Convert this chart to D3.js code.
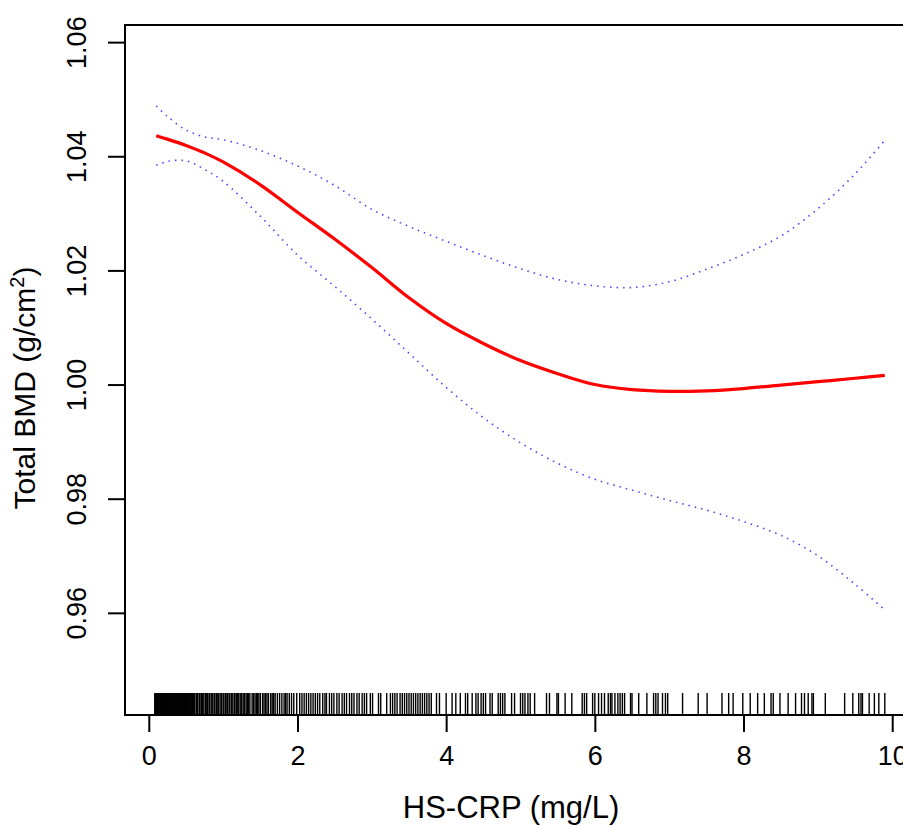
<!DOCTYPE html>
<html>
<head>
<meta charset="utf-8">
<script src="https://cdn.jsdelivr.net/npm/d3@7"></script>
<style>
  html, body { margin: 0; padding: 0; background: #fff; }
  svg { display: block; font-family: "Liberation Sans", Arial, Helvetica, sans-serif; }
</style>
</head>
<body>
<div id="chart"></div>
<script>
// HS-CRP values where the smooth curve and its bounds were read
var curveX = [0.1, 0.25, 0.5, 0.75, 1.0, 1.5, 2.0, 2.5, 3.0, 3.5, 4.0, 4.5, 5.0, 5.5, 6.0, 6.5, 7.0, 7.5, 8.0, 8.5, 9.0, 9.5, 9.9];

var fitValues = [1.0436, 1.0430, 1.0419, 1.0406, 1.0390, 1.0350, 1.0302, 1.0255, 1.0205, 1.0152, 1.0107, 1.0072,
                 1.0042, 1.0019, 1.0000, 0.9991, 0.9988, 0.9989, 0.9993, 0.9999, 1.0005, 1.0011, 1.0016];

var upperValues = [1.0488, 1.0470, 1.0446, 1.0434, 1.0429, 1.0410, 1.0383, 1.0349, 1.0307, 1.0277, 1.0251, 1.0226,
                   1.0203, 1.0184, 1.0173, 1.0170, 1.0180, 1.0202, 1.0228, 1.0260, 1.0308, 1.0369, 1.0428];

var lowerValues = [1.0384, 1.0391, 1.0392, 1.0377, 1.0356, 1.0295, 1.0227, 1.0172, 1.0115, 1.0055, 0.9995, 0.9942,
                   0.9898, 0.9862, 0.9834, 0.9815, 0.9797, 0.9780, 0.9760, 0.9736, 0.9700, 0.9650, 0.9605];

// observed HS-CRP values shown as a rug
var rugValues = [
  0.08, 0.09, 0.10, 0.11, 0.12, 0.13, 0.14, 0.15, 0.16, 0.17, 0.18, 0.19, 0.20, 0.21, 0.22, 0.23, 0.24, 0.25,
  0.26, 0.27, 0.28, 0.29, 0.30, 0.31, 0.32, 0.33, 0.34, 0.35, 0.36, 0.37, 0.38, 0.39, 0.40, 0.41, 0.42, 0.43,
  0.44, 0.45, 0.46, 0.47, 0.48, 0.49, 0.50, 0.51, 0.52, 0.53, 0.54, 0.55, 0.56, 0.57, 0.58, 0.59, 0.60, 0.61, 0.62,
  0.64, 0.65, 0.66, 0.68, 0.69, 0.71, 0.72, 0.74, 0.76, 0.78, 0.79, 0.81, 0.82, 0.84, 0.86, 0.88, 0.89, 0.91,
  0.92, 0.94, 0.96, 0.98, 1.00, 1.01, 1.03, 1.05, 1.06, 1.08, 1.09, 1.11, 1.13, 1.15, 1.16, 1.18, 1.19, 1.21,
  1.23, 1.25, 1.27, 1.29, 1.31, 1.33, 1.34, 1.36, 1.39, 1.41, 1.43, 1.45, 1.46, 1.48, 1.50, 1.53, 1.55, 1.57,
  1.59, 1.61, 1.64, 1.66, 1.68, 1.70, 1.73, 1.76, 1.79, 1.82, 1.84, 1.86, 1.89, 1.92, 1.95, 1.99,
  2.03, 2.06, 2.09, 2.12, 2.15, 2.18, 2.21, 2.24, 2.27, 2.30, 2.34, 2.37, 2.39, 2.43, 2.46, 2.49, 2.53, 2.56,
  2.60, 2.63, 2.66, 2.70, 2.73, 2.76, 2.80, 2.83, 2.87, 2.90, 2.93, 2.98, 3.01, 3.09, 3.12, 3.20, 3.25, 3.28,
  3.31, 3.34, 3.38, 3.41, 3.44, 3.47, 3.50, 3.53, 3.56, 3.59, 3.62, 3.65, 3.68, 3.71, 3.74, 3.77, 3.80, 3.87,
  3.91, 4.00, 4.08, 4.13, 4.19, 4.26, 4.29, 4.35, 4.40, 4.43, 4.47, 4.50, 4.53, 4.59, 4.62, 4.70, 4.73, 4.76,
  4.79, 4.88, 4.92, 5.00, 5.03, 5.06, 5.10, 5.13, 5.19, 5.35, 5.39, 5.49, 5.51, 5.60, 5.69, 5.83, 5.86, 5.89,
  5.97, 6.00, 6.05, 6.09, 6.13, 6.18, 6.21, 6.23, 6.27, 6.31, 6.34, 6.37, 6.40, 6.48, 6.50, 6.59, 6.70, 6.79,
  6.82, 6.85, 6.91, 6.95, 6.98, 7.18, 7.39, 7.51, 7.71, 7.80, 7.86, 7.99, 8.09, 8.19, 8.28, 8.37, 8.40, 8.49,
  8.60, 8.70, 8.78, 8.82, 8.87, 8.92, 8.94, 9.10, 9.36, 9.47, 9.55, 9.58, 9.60, 9.69, 9.76, 9.82, 9.90
];

var xTicks = [0, 2, 4, 6, 8, 10];
var yTicks = [0.96, 0.98, 1.00, 1.02, 1.04, 1.06];

var xTitle = "HS-CRP (mg/L)";

var width = 903,
    height = 825,
    margin = {top: 25, left: 125, bottom: 110},
    plotRight = 916;

var svg = d3.select("#chart").append("svg")
    .attr("width", width)
    .attr("height", height);

var x = d3.scaleLinear()
    .domain([-0.32, 10.32])
    .range([margin.left, plotRight]);

var y = d3.scaleLinear()
    .domain([0.9421, 1.0630])
    .range([height - margin.bottom, margin.top]);

// rug along the bottom of the plot
svg.append("g")
    .attr("class", "rug")
  .selectAll("line")
  .data(rugValues)
  .enter().append("line")
    .attr("x1", function(d) { return x(d); })
    .attr("x2", function(d) { return x(d); })
    .attr("y1", y.range()[0] - 22)
    .attr("y2", y.range()[0])
    .attr("stroke", "#000")
    .attr("stroke-width", 1.4);

var line = d3.line()
    .curve(d3.curveCatmullRom.alpha(0.5))
    .x(function(d) { return x(d[0]); })
    .y(function(d) { return y(d[1]); });

function pairs(values) {
    return curveX.map(function(v, i) { return [v, values[i]]; });
}

// confidence bounds, dotted blue
[upperValues, lowerValues].forEach(function(values) {
    svg.append("path")
        .datum(pairs(values))
        .attr("fill", "none")
        .attr("stroke", "#4646ff")
        .attr("stroke-width", 1.6)
        .attr("stroke-dasharray", "1.5,5")
        .attr("d", line);
});

// fitted curve
svg.append("path")
    .datum(pairs(fitValues))
    .attr("fill", "none")
    .attr("stroke", "#ff0000")
    .attr("stroke-width", 3.2)
    .attr("stroke-linejoin", "round")
    .attr("d", line);

// plot box (right side falls outside the picture)
svg.append("rect")
    .attr("x", margin.left)
    .attr("y", margin.top)
    .attr("width", plotRight - margin.left)
    .attr("height", y.range()[0] - margin.top)
    .attr("fill", "none")
    .attr("stroke", "#000")
    .attr("stroke-width", 2);

// x axis
var xAxis = svg.append("g")
    .attr("transform", "translate(0," + y.range()[0] + ")")
    .call(d3.axisBottom(x).tickValues(xTicks).tickSize(17).tickPadding(14).tickFormat(d3.format("d")));
xAxis.select(".domain").remove();
xAxis.selectAll(".tick line").attr("stroke-width", 2);
xAxis.selectAll(".tick text").attr("font-size", 27).attr("fill", "#000").attr("font-family", null);

// y axis, labels turned like R's default
var yAxis = svg.append("g")
    .attr("transform", "translate(" + margin.left + ",0)")
    .call(d3.axisLeft(y).tickValues(yTicks).tickSize(17).tickFormat(d3.format(".2f")));
yAxis.select(".domain").remove();
yAxis.selectAll(".tick line").attr("stroke-width", 2);
yAxis.selectAll(".tick text")
    .attr("font-size", 27)
    .attr("fill", "#000")
    .attr("font-family", null)
    .attr("x", null)
    .attr("dy", null)
    .attr("text-anchor", "middle")
    .attr("transform", "translate(-39,0) rotate(-90)");

// axis titles
svg.append("text")
    .attr("x", 511)
    .attr("y", 818)
    .attr("text-anchor", "middle")
    .attr("font-size", 31)
    .text(xTitle);

var yTitle = svg.append("text")
    .attr("transform", "translate(35,388) rotate(-90)")
    .attr("text-anchor", "middle")
    .attr("font-size", 30);
yTitle.append("tspan").text("Total BMD (g/cm");
yTitle.append("tspan").attr("font-size", 20).attr("dy", -11).text("2");
yTitle.append("tspan").attr("dy", 11).text(")");
</script>
</body>
</html>
